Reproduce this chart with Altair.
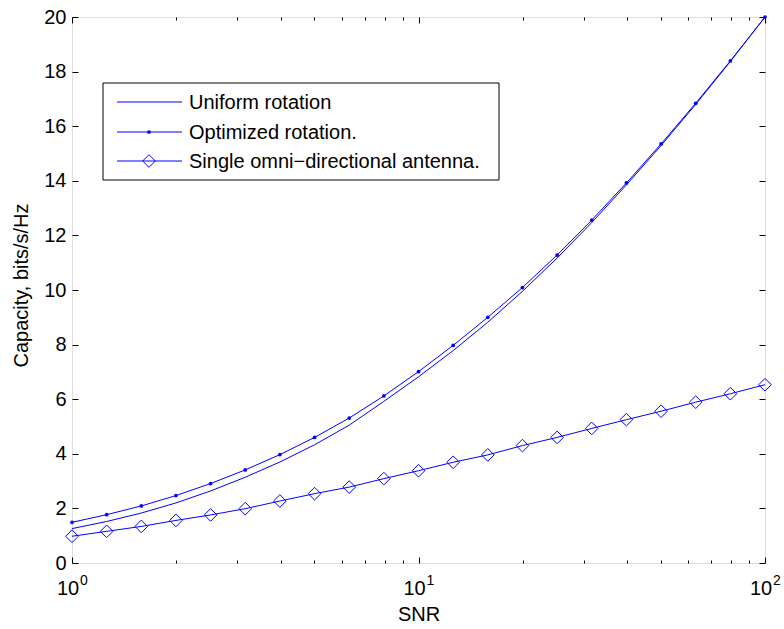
import altair as alt
import pandas as pd

# ---- data ----
snr = [1, 1.259, 1.585, 1.995, 2.512, 3.162, 3.981, 5.012, 6.310, 7.943,
       10, 12.59, 15.85, 19.95, 25.12, 31.62, 39.81, 50.12, 63.10, 79.43, 100]
uniform = [1.26, 1.52, 1.83, 2.20, 2.64, 3.14, 3.70, 4.33, 5.05, 5.92,
           6.82, 7.78, 8.82, 9.95, 11.17, 12.47, 13.85, 15.29, 16.80, 18.37, 20.0]
optimized = [1.49, 1.77, 2.09, 2.47, 2.91, 3.41, 3.97, 4.60, 5.31, 6.12,
             7.01, 7.97, 9.00, 10.09, 11.28, 12.56, 13.92, 15.35, 16.84, 18.39, 20.0]
omni = [0.98, 1.16, 1.34, 1.56, 1.76, 1.99, 2.27, 2.54, 2.78, 3.09,
        3.38, 3.69, 3.96, 4.30, 4.60, 4.93, 5.25, 5.56, 5.89, 6.20, 6.53]

major_x = [1, 10, 100]
minor_x = [2, 3, 4, 5, 6, 7, 8, 9, 20, 30, 40, 50, 60, 70, 80, 90]
y_ticks = [0, 2, 4, 6, 8, 10, 12, 14, 16, 18, 20]
exponents = ["0", "1", "2"]
legend_labels = ["Uniform rotation", "Optimized rotation.", "Single omni\u2212directional antenna."]

df = pd.DataFrame({"snr": snr, "uniform": uniform, "optimized": optimized, "omni": omni})
lab_df = pd.DataFrame({"v": major_x, "base": ["10"] * 3, "exp": exponents})

W, H = 693, 546
FONT = "Liberation Sans"
BLUE = "#0000ff"

xs = alt.Scale(type="log", domain=[1, 100], nice=False)
ys = alt.Scale(domain=[0, 20], nice=False, zero=False)

def xaxis(orient, values, size, title=None):
    kw = dict(orient=orient, values=values, tickSize=size, offset=-size, labels=False,
              domain=False, grid=False, ticks=True, tickColor="black", tickWidth=1)
    if title:
        kw.update(title=title, titleFont=FONT, titleFontSize=20, titleFontWeight="normal",
                  titleColor="black", titleBaseline="alphabetic", titleY=63)
    else:
        kw.update(title=None)
    return alt.Axis(**kw)

base = alt.Chart(df)

l_uniform = base.mark_line(color=BLUE, strokeWidth=1).encode(
    x=alt.X("snr:Q", scale=xs, axis=xaxis("bottom", major_x, 6, "SNR")),
    y=alt.Y("uniform:Q", scale=ys, axis=alt.Axis(
        orient="left", values=y_ticks, tickSize=6, offset=-6, domain=False, grid=False,
        tickColor="black", labelFont=FONT, labelFontSize=20, labelColor="black",
        labelPadding=6, title="Capacity, bits/s/Hz", titleFont=FONT, titleFontSize=20,
        titleFontWeight="normal", titleColor="black", titleBaseline="alphabetic",
        titleX=-51, titleY=268)),
)
l_opt = base.mark_line(color=BLUE, strokeWidth=1).encode(
    x=alt.X("snr:Q", scale=xs, axis=xaxis("top", major_x, 6)),
    y=alt.Y("optimized:Q", scale=ys, axis=alt.Axis(
        orient="right", values=y_ticks, tickSize=6, offset=-6, domain=False, grid=False,
        tickColor="black", labels=False, title=None)),
)
p_opt = base.mark_point(shape="circle", filled=True, color=BLUE, size=14, opacity=1).encode(
    x=alt.X("snr:Q", scale=xs, axis=xaxis("bottom", minor_x, 3)),
    y=alt.Y("optimized:Q", scale=ys, axis=None),
)
l_omni = base.mark_line(color=BLUE, strokeWidth=1).encode(
    x=alt.X("snr:Q", scale=xs, axis=xaxis("top", minor_x, 3)),
    y=alt.Y("omni:Q", scale=ys, axis=None),
)
p_omni = base.mark_point(shape="diamond", filled=False, color=BLUE, size=160,
                         strokeWidth=1, opacity=1).encode(
    x=alt.X("snr:Q", scale=xs, axis=None),
    y=alt.Y("omni:Q", scale=ys, axis=None),
)

t_base = alt.Chart(lab_df).mark_text(font=FONT, fontSize=20, color="black", align="center",
                                     baseline="alphabetic", dx=-4).encode(
    x=alt.X("v:Q", scale=xs, axis=None), y=alt.value(H + 32), text="base:N")
t_exp = alt.Chart(lab_df).mark_text(font=FONT, fontSize=14, color="black", align="center",
                                    baseline="alphabetic", dx=12).encode(
    x=alt.X("v:Q", scale=xs, axis=None), y=alt.value(H + 22), text="exp:N")

# ---- legend (drawn in pixel space) ----
one = alt.Data(values=[{}])
leg = [alt.Chart(one).mark_rect(fill="white", stroke="black", strokeWidth=1).encode(
    x=alt.value(31), x2=alt.value(427), y=alt.value(66), y2=alt.value(163))]
rows = [85, 115, 144]
for i, (lab, ry) in enumerate(zip(legend_labels, rows)):
    leg.append(alt.Chart(one).mark_rule(color=BLUE, strokeWidth=1).encode(
        x=alt.value(45), x2=alt.value(110), y=alt.value(ry)))
    leg.append(alt.Chart(one).mark_text(font=FONT, fontSize=20, color="black", align="left",
                                        baseline="middle", text=lab).encode(
        x=alt.value(117), y=alt.value(ry + 1)))
leg.append(alt.Chart(one).mark_point(shape="circle", filled=True, color=BLUE, size=14,
                                     opacity=1).encode(x=alt.value(77), y=alt.value(rows[1])))
leg.append(alt.Chart(one).mark_point(shape="diamond", filled=False, color=BLUE, size=160,
                                     strokeWidth=1, opacity=1).encode(x=alt.value(77), y=alt.value(rows[2])))

chart = alt.layer(l_uniform, l_opt, p_opt, l_omni, p_omni, t_base, t_exp, *leg).resolve_axis(
    x="independent", y="independent"
).properties(
    width=W, height=H,
    padding={"left": 72, "top": 17, "right": 19, "bottom": 66},
    autosize=alt.AutoSizeParams(type="none"),
).configure_view(stroke="black", strokeWidth=1.5).configure(background="white")

chart.save("out.html", embed_options={"renderer": "svg", "actions": False})
